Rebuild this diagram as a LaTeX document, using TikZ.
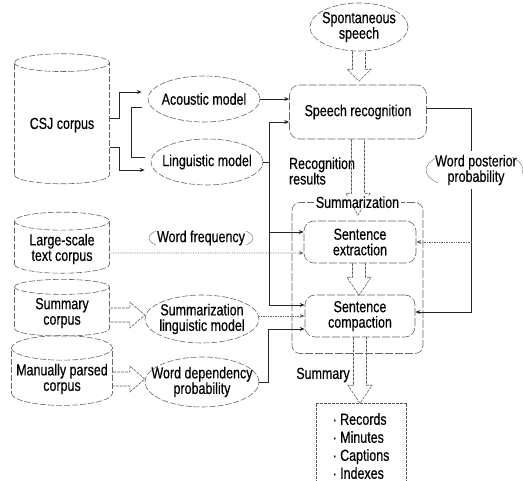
\documentclass[tikz,border=0pt]{standalone}
\usepackage{fontspec}
\setmainfont{Liberation Sans}[FakeStretch=0.78, FakeBold=0.4]
\usetikzlibrary{shapes.geometric,arrows.meta,calc}

\tikzset{
  model/.style={ellipse, draw=black!60, line width=0.6pt, dash pattern=on 6pt off 2pt, inner xsep=-12pt, inner ysep=1pt, align=center},
  stage/.style={rectangle, rounded corners=10pt, draw=black!60, line width=0.6pt, dash pattern=on 8pt off 2pt, align=center},
  corpus/.style={cylinder, shape border rotate=90, aspect=0.25, draw=black!60, line width=0.6pt, dash pattern=on 6pt off 2pt, align=center},
  link/.style={draw=black!85, line width=0.7pt, -{Stealth[length=5pt,width=4pt]}},
  dotlink/.style={link, draw=black!60, densely dotted},
  wall/.style={draw=black!65, line width=0.6pt, dash pattern=on 3pt off 1pt},
  faint/.style={draw=black!50, line width=0.5pt},
  pics/fatdown/.style args={#1/#2}{code={
    \draw[wall] (-6.5,0) -- (-6.5,#1) -- (-12,#1) -- (0,#1+#2) -- (12,#1) -- (6.5,#1) -- (6.5,0);}},
  pics/fatright/.style args={#1/#2}{code={
    \draw[wall] (0,-7) -- (#1,-7) -- (#1,-13) -- (#1+#2,0) -- (#1,13) -- (#1,7) -- (0,7);}}
}

\begin{document}
\begin{tikzpicture}[x=1pt, y=-1pt, font=\fontsize{16}{15.5}\selectfont]
\useasboundingbox (0,0) rectangle (523,481);

% corpora
\node[corpus, minimum width=95, minimum height=130] (csj) at (62,125) {CSJ corpus};
\node[corpus, minimum width=95, minimum height=48] (lsc) at (62,249) {Large-scale\\text corpus};
\node[corpus, minimum width=95, minimum height=50] (scp) at (62,313) {Summary\\corpus};
\node[corpus, minimum width=101, minimum height=62] (mpc) at (62,379) {Manually parsed\\corpus};

% models
\node[model, minimum width=112, minimum height=46] (am) at (204,99) {Acoustic model};
\node[model, minimum width=112, minimum height=46] (lm) at (207,162) {Linguistic model};
\node[model, minimum width=114, minimum height=48] (slm) at (202,319) {Summarization\\linguistic model};
\node[model, minimum width=114, minimum height=50] (wdp) at (202,382) {Word dependency\\probability};
\node[model, minimum width=98, minimum height=48] (sp) at (359,27) {Spontaneous\\speech};

% processing stages
\node[stage, minimum width=137, minimum height=54] (sr) at (358,112) {Speech recognition};
\node[stage, minimum width=112, minimum height=42] (se) at (360,242) {Sentence\\extraction};
\node[stage, minimum width=110, minimum height=42] (sc) at (360,316) {Sentence\\compaction};
\node[stage, rounded corners=8pt, minimum width=131, minimum height=151] (sum) at (357.5,278) {};

\node[align=left] (rr) at (322,171) {Recognition\\results};
\node (sm) at (323,375) {Summary};
\node (wf) at (201,238) {Word frequency};

% hollow arrows
\pic at (sp.south) {fatdown=18/12};
\pic at (sr.south) {fatdown=54/22};
\pic at ([xshift=-1pt]se.south) {fatdown=14/18};
\pic at (sc.south) {fatdown=48/18};
\pic at ([yshift=-2pt]scp.east) {fatright=20/15};
\pic at (mpc.east) {fatright=17/15};

\node[fill=white, inner xsep=2pt, inner ysep=0pt] (sumlabel) at (sum.north) {Summarization};

% output
\node[align=left, anchor=north, minimum width=90, inner ysep=10pt, font=\fontsize{16}{18}\selectfont] (out) at (361,403) {·~Records\\·~Minutes\\·~Captions\\·~Indexes};
\draw[wall] ([yshift=-10pt]out.south west) -- (out.north west) -- (out.north east) -- ([yshift=-10pt]out.south east);

% CSJ corpus to models
\draw[link] ([yshift=7pt]csj.east) -- ++(10,0) |- ([xshift=-6pt,yshift=7pt]am.west);
\draw[link] ([yshift=-22pt]csj.east) -- ++(10,0) |- ([xshift=-6pt,yshift=-8pt]lm.west);
\draw[draw=black!85, line width=0.7pt] ([xshift=-6pt,yshift=-8pt]am.west) -- ++(-10,0) |- ([xshift=-6pt,yshift=5pt]lm.west);

% models to stages
\draw[link] (am.east) -- (am.east -| sr.west);
\draw[draw=black!85, line width=0.7pt] (lm.east) -- ++(6,0) coordinate (lmj);
\draw[link] (lmj) |- ([yshift=-10pt]sr.west);
\draw[link] (lmj) |- ([yshift=10pt]se.west);
\draw[link] (lmj) |- ([yshift=11pt]sc.west);
\draw[dotlink] ([yshift=-4pt]lsc.east) -- ([yshift=-11pt]se.west);
\draw[dotlink] (slm.east |- sc.west) -- (sc.west);
\draw[link] (wdp.east) -- ++(9,0) |- ([yshift=-13pt]sc.west);

% word posterior probability
\draw[link] ([yshift=4pt]sr.east) -- ++(45,0) coordinate (wpj) |- ([yshift=4pt]sc.east);
\draw[dotlink] (wpj |- se.east) -- (se.east);
\node[fill=white, align=center] (wp) at (476,170) {Word posterior\\probability};

% faint brackets round the labels
\draw[faint] (wf.center) ++(150:52 and 14) arc[start angle=150, end angle=210, x radius=52, y radius=14];
\draw[faint] (wf.center) ++(-30:52 and 14) arc[start angle=-30, end angle=30, x radius=52, y radius=14];
\draw[faint] (wp.center) ++(140:50 and 20) arc[start angle=140, end angle=220, x radius=50, y radius=20];
\draw[faint] (wp.center) ++(-40:47 and 20) arc[start angle=-40, end angle=10, x radius=47, y radius=20];
\end{tikzpicture}
\end{document}
